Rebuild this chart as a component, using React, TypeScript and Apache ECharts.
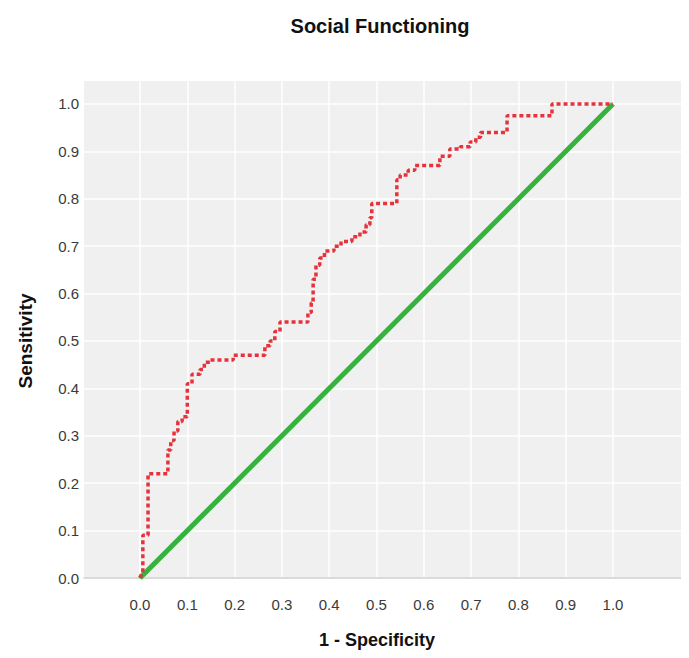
import React, { useEffect, useRef } from "react";
import * as echarts from "echarts";

const titleText = "Social Functioning";
const xName = "1 - Specificity";
const yName = "Sensitivity";

const tickValues = [0, 0.1, 0.2, 0.3, 0.4, 0.5, 0.6, 0.7, 0.8, 0.9, 1.0];

// ROC curve (1 - specificity, sensitivity)
const fpr = [
  0, 0.004, 0.006, 0.006, 0.017, 0.017, 0.059, 0.059, 0.065, 0.065, 0.072, 0.072,
  0.08, 0.08, 0.089, 0.089, 0.1, 0.1, 0.11, 0.11, 0.127, 0.127, 0.136, 0.136,
  0.148, 0.148, 0.197, 0.197, 0.264, 0.264, 0.275, 0.275, 0.285, 0.285, 0.296, 0.296,
  0.355, 0.355, 0.362, 0.362, 0.366, 0.366, 0.372, 0.372, 0.38, 0.38, 0.39, 0.39,
  0.41, 0.41, 0.425, 0.425, 0.448, 0.448, 0.465, 0.465, 0.478, 0.478, 0.486, 0.486,
  0.49, 0.49, 0.543, 0.543, 0.55, 0.55, 0.567, 0.567, 0.581, 0.581, 0.634, 0.634,
  0.655, 0.655, 0.677, 0.677, 0.698, 0.698, 0.71, 0.71, 0.72, 0.72, 0.776, 0.776,
  0.871, 0.871, 1.0,
];
const tpr = [
  0, 0.01, 0.01, 0.09, 0.09, 0.22, 0.22, 0.27, 0.27, 0.29, 0.29, 0.31,
  0.31, 0.33, 0.33, 0.34, 0.34, 0.41, 0.41, 0.43, 0.43, 0.44, 0.44, 0.455,
  0.455, 0.46, 0.46, 0.47, 0.47, 0.49, 0.49, 0.5, 0.5, 0.52, 0.52, 0.54,
  0.54, 0.56, 0.56, 0.58, 0.58, 0.63, 0.63, 0.66, 0.66, 0.675, 0.675, 0.69,
  0.69, 0.7, 0.7, 0.71, 0.71, 0.72, 0.72, 0.73, 0.73, 0.745, 0.745, 0.76,
  0.76, 0.79, 0.79, 0.84, 0.84, 0.85, 0.85, 0.86, 0.86, 0.87, 0.87, 0.89,
  0.89, 0.905, 0.905, 0.91, 0.91, 0.92, 0.92, 0.93, 0.93, 0.94, 0.94, 0.975,
  0.975, 1.0, 1.0,
];

const refX = [0, 1];
const refY = [0, 1];

const FONT = "'Liberation Sans', Arial, sans-serif";

export default function App() {
  const ref = useRef<HTMLDivElement>(null);
  useEffect(() => {
    if (!ref.current) return;
    const chart = echarts.init(ref.current, undefined, { renderer: "svg" });
    const option = {
      animation: false,
      backgroundColor: "#ffffff",
      title: {
        text: titleText,
        left: 375,
        top: 11,
        textAlign: "center",
        textStyle: { fontFamily: FONT, fontSize: 20, fontWeight: "bold", color: "#111" },
      },
      grid: {
        left: 84,
        right: 0,
        top: 81,
        bottom: 80,
        show: true,
        backgroundColor: "#f0f0f0",
        borderWidth: 0,
        containLabel: false,
      },
      xAxis: {
        type: "value",
        min: -0.1184,
        max: 1.1607,
        axisLine: { show: true, lineStyle: { color: "#cfcfcf", width: 1.5 } },
        axisTick: { show: false, customValues: tickValues },
        axisLabel: {
          customValues: tickValues,
          formatter: (v: number) => v.toFixed(1),
          fontFamily: FONT,
          fontSize: 15,
          color: "#3a3a3a",
          margin: 19,
        },
        splitLine: { show: true, lineStyle: { color: "#ffffff", width: 1.5 } },
      },
      yAxis: {
        type: "value",
        min: 0,
        max: 1.0485,
        axisLine: { show: false },
        axisTick: { show: false, customValues: tickValues },
        axisLabel: {
          customValues: tickValues,
          formatter: (v: number) => v.toFixed(1),
          fontFamily: FONT,
          fontSize: 15,
          color: "#3a3a3a",
          margin: 5,
        },
        splitLine: { show: true, lineStyle: { color: "#ffffff", width: 1.5 } },
      },
      graphic: [
        {
          type: "text",
          x: 377,
          y: 640,
          style: {
            text: xName,
            fontFamily: FONT,
            fontSize: 18,
            fontWeight: "bold",
            fill: "#111",
            textAlign: "center",
            textVerticalAlign: "middle",
          },
        },
        {
          type: "text",
          x: 25,
          y: 341,
          rotation: Math.PI / 2,
          style: {
            text: yName,
            fontFamily: FONT,
            fontSize: 19,
            fontWeight: "bold",
            fill: "#111",
            textAlign: "center",
            textVerticalAlign: "middle",
          },
        },
      ],
      series: [
        {
          type: "line",
          data: refX.map((x, i) => [x, refY[i]]),
          showSymbol: false,
          lineStyle: { color: "#37b23f", width: 5 },
          z: 2,
        },
        {
          type: "line",
          data: fpr.map((x, i) => [x, tpr[i]]),
          showSymbol: false,
          lineStyle: { color: "#e5323b", width: 3.5, type: [4, 3] },
          z: 3,
        },
      ],
    };
    chart.setOption(option as any);
    return () => chart.dispose();
  }, []);
  return <div ref={ref} style={{ width: 689, height: 658, margin: -8 }} />;
}
